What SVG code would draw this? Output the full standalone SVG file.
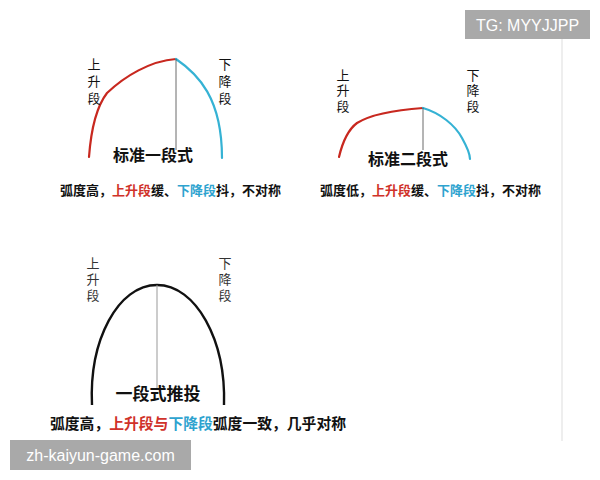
<svg xmlns="http://www.w3.org/2000/svg" width="600" height="480" viewBox="0 0 600 480">
<style>
  text { font-family: "Noto Sans CJK SC", "Liberation Sans", sans-serif; }
  .v { writing-mode: vertical-rl; font-size: 13px; }
  .lbl { fill: #111; }
  .lbl3 { fill: #333; }
  .title { font-size: 16px; font-weight: bold; fill: #111; text-anchor: middle; }
  .cap { font-size: 13px; font-weight: bold; fill: #111; }
  .cap3 { font-size: 14.8px; font-weight: bold; fill: #111; }
  .r { fill: #d0322a; }
  .b { fill: #2ea3cf; }
  .up { fill: none; stroke: #c8281f; stroke-width: 2.2; stroke-linecap: round; }
  .down { fill: none; stroke: #35b2d4; stroke-width: 2.2; stroke-linecap: round; }
  .arc { fill: none; stroke: #111; stroke-width: 2.4; }
  .axis { stroke: #444; stroke-width: 0.8; }
  .wm { fill: #a9a9a9; }
  .wmt { font-family: "Liberation Sans", sans-serif; font-size: 16px; fill: #fff; text-anchor: middle; }
</style>
<rect width="600" height="480" fill="#fff"/>
<line x1="562" y1="39" x2="562" y2="441" stroke="#dddddd" stroke-width="1"/>

<g id="diagram1">
  <g id="connectors1">
    <path class="up" d="M89,157 C91,130 97,106 107,93 C125,76 150,61 176,59"/>
    <path class="down" d="M176,59 C198,74 222,98 222,158"/>
    <line class="axis" x1="176" y1="59" x2="176" y2="150"/>
  </g>
  <g id="labels1">
    <text class="v lbl" x="94" y="58" style="letter-spacing:4px">上升段</text>
    <text class="v lbl" x="225" y="58" style="letter-spacing:4px">下降段</text>
    <text class="title" x="153" y="161">标准一段式</text>
    <text class="cap" x="60" y="195">弧度高，<tspan class="r">上升段</tspan>缓、<tspan class="b">下降段</tspan>抖，不对称</text>
  </g>
</g>

<g id="diagram2">
  <g id="connectors2">
    <path class="up" d="M339,157 C343,140 349,129 357,123 C370,115 395,110 423,108"/>
    <path class="down" d="M423,108 C440,113 455,125 462,138 C467,147 470,153 470,159"/>
    <line class="axis" x1="423" y1="108" x2="423" y2="150"/>
  </g>
  <g id="labels2">
    <text class="v lbl" x="343" y="68.5" style="letter-spacing:2.5px">上升段</text>
    <text class="v lbl" x="473" y="68.5" style="letter-spacing:2.5px">下降段</text>
    <text class="title" x="408" y="165">标准二段式</text>
    <text class="cap" x="320" y="195">弧度低，<tspan class="r">上升段</tspan>缓、<tspan class="b">下降段</tspan>抖，不对称</text>
  </g>
</g>

<g id="diagram3">
  <g id="connectors3">
    <path class="arc" d="M92,405 C89,340 118,285 157,285 C196,285 226,340 224,405"/>
    <line x1="157" y1="285" x2="157" y2="388" stroke="#999" stroke-width="1"/>
  </g>
  <g id="labels3">
    <text class="v lbl3" x="93" y="256.5" style="letter-spacing:3px">上升段</text>
    <text class="v lbl3" x="225" y="256.5" style="letter-spacing:3px">下降段</text>
    <text class="title" x="158" y="400" style="font-size:17px">一段式推投</text>
    <text class="cap3" x="50" y="429">弧度高，<tspan class="r">上升段与</tspan><tspan class="b">下降段</tspan>弧度一致，几乎对称</text>
  </g>
</g>

<g id="watermarks">
  <rect class="wm" x="465" y="10" width="125" height="29"/>
  <text class="wmt" x="527.5" y="31">TG: MYYJJPP</text>
  <rect class="wm" x="10" y="440" width="181" height="30"/>
  <text class="wmt" x="100.5" y="461">zh-kaiyun-game.com</text>
</g>
</svg>
